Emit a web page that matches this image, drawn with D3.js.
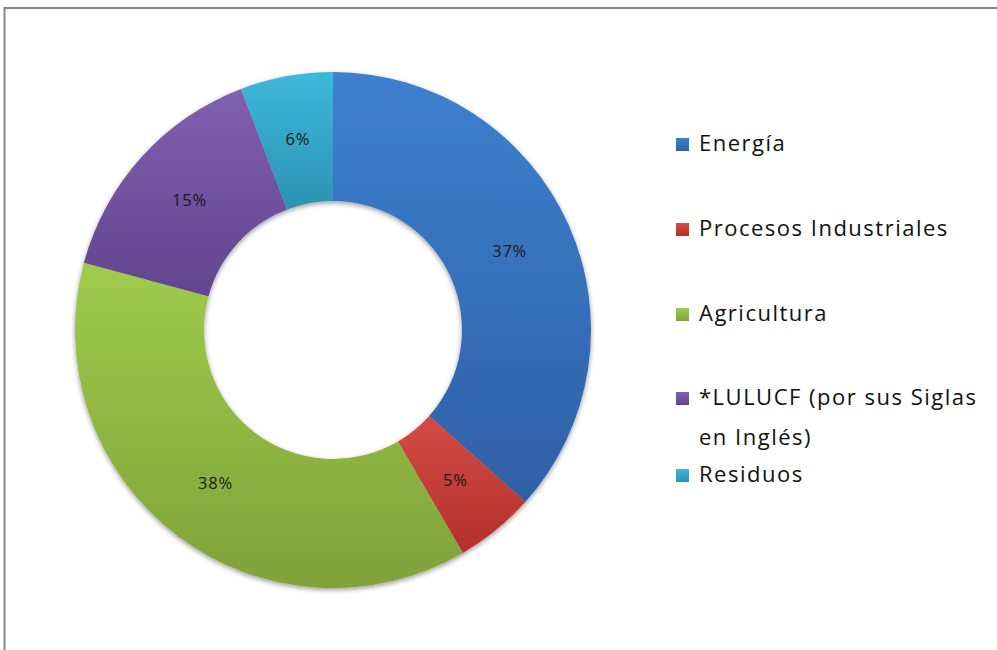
<!DOCTYPE html>
<html>
<head>
<meta charset="utf-8">
<script src="https://cdn.jsdelivr.net/npm/d3@7"></script>
<style>
  body { margin: 0; background: #fff; }
  text { font-family: "Open Sans", "Noto Sans", sans-serif; }
</style>
</head>
<body>
<div id="chart"></div>
<script>
// slice data, clockwise from 12 o'clock
var categories = ["Energía", "Procesos Industriales", "Agricultura", "*LULUCF (por sus Siglas en Inglés)", "Residuos"];
var values = [36.6, 5.0, 37.6, 15.0, 5.8];
var colorsTop = ["#3d80cf", "#d34b45", "#a0cb4c", "#8060b0", "#3db8db"];
var colorsBottom = ["#2f60a6", "#b3302b", "#7fa23a", "#62448e", "#2c93b3"];

var w = 997;
var h = 650;
var cx = 333, cy = 330;
var outerR = 258, innerR = 129;

var svg = d3.select("#chart")
    .append("svg")
    .attr("width", w)
    .attr("height", h);

var defs = svg.append("defs");

// soft shadow like the office chart
var shadow = defs.append("filter")
    .attr("id", "shadow")
    .attr("x", "-10%").attr("y", "-10%")
    .attr("width", "120%").attr("height", "120%");
shadow.append("feDropShadow")
    .attr("dx", 0).attr("dy", 2)
    .attr("stdDeviation", 2.5)
    .attr("flood-color", "#000")
    .attr("flood-opacity", 0.4);

categories.forEach(function(c, i) {
    var g = defs.append("linearGradient")
        .attr("id", "grad" + i)
        .attr("x1", 0).attr("y1", 0)
        .attr("x2", 0).attr("y2", 1);
    g.append("stop").attr("offset", "0%").attr("stop-color", colorsTop[i]);
    g.append("stop").attr("offset", "100%").attr("stop-color", colorsBottom[i]);
});

// frame
svg.append("rect")
    .attr("x", 4.5)
    .attr("y", 8)
    .attr("width", w + 20)
    .attr("height", h + 20)
    .attr("fill", "none")
    .attr("stroke", "#878787")
    .attr("stroke-width", 2);

var pie = d3.pie()
    .sort(null)
    .value(function(d) { return d; });

var arc = d3.arc()
    .innerRadius(innerR)
    .outerRadius(outerR);

var total = d3.sum(values);
var arcs = pie(values);

var donut = svg.append("g")
    .attr("transform", "translate(" + cx + "," + cy + ")");

donut.append("g")
    .attr("filter", "url(#shadow)")
    .selectAll("path")
    .data(arcs)
    .enter()
    .append("path")
    .attr("d", arc)
    .attr("fill", function(d, i) { return "url(#grad" + i + ")"; });

// percentage labels in the middle of the ring
var labelArc = d3.arc()
    .innerRadius((innerR + outerR) / 2)
    .outerRadius((innerR + outerR) / 2);

donut.selectAll("text.pct")
    .data(arcs)
    .enter()
    .append("text")
    .attr("class", "pct")
    .attr("transform", function(d) { return "translate(" + labelArc.centroid(d) + ")"; })
    .attr("text-anchor", "middle")
    .attr("dy", "0.35em")
    .attr("font-size", 16.5)
    .attr("letter-spacing", 0.8)
    .attr("fill", "#1a1a1a")
    .text(function(d) { return d3.format(".0f")(d.value / total * 100) + "%"; });

// legend
var legendX = 676;
var legendY = [151, 236, 321, 405, 482];
var lineH = 40;

var legend = svg.append("g");

categories.forEach(function(c, i) {
    var item = legend.append("g");
    item.append("rect")
        .attr("x", legendX)
        .attr("y", legendY[i] - 13)
        .attr("width", 13)
        .attr("height", 13)
        .attr("fill", "url(#grad" + i + ")");

    var t = item.append("text")
        .attr("x", legendX + 23)
        .attr("y", legendY[i])
        .attr("font-size", 22)
        .attr("letter-spacing", 1.5)
        .attr("fill", "#111");

    // wrap long names
    var words = c.split(" ");
    var line = [];
    var tspan = t.append("tspan").attr("x", legendX + 23).attr("dy", 0);
    words.forEach(function(word) {
        line.push(word);
        tspan.text(line.join(" "));
        if (tspan.node().getComputedTextLength() > 292 && line.length > 1) {
            line.pop();
            tspan.text(line.join(" "));
            line = [word];
            tspan = t.append("tspan")
                .attr("x", legendX + 23)
                .attr("dy", lineH)
                .text(word);
        }
    });
});
</script>
</body>
</html>
